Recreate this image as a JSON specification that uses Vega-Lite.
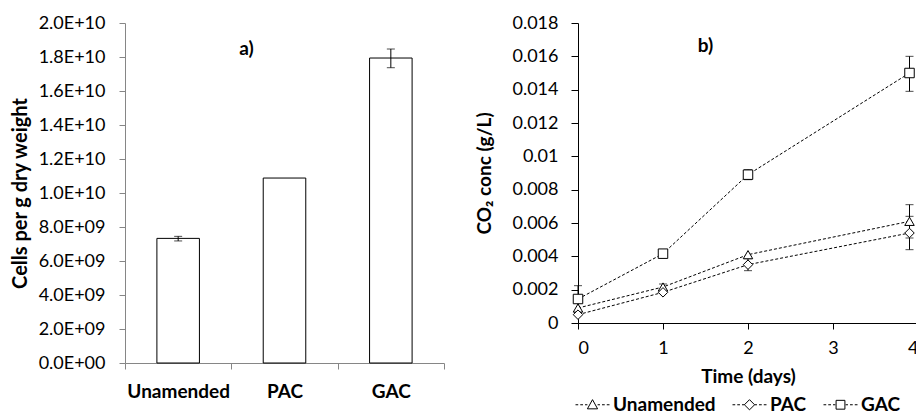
{
  "$schema": "https://vega.github.io/schema/vega-lite/v6.json",
  "padding": {"left": 10, "top": 14, "right": 0, "bottom": 0},
  "background": "white",
  "config": {
    "view": {"stroke": null},
    "font": "Lato",
    "axis": {"grid": false, "labelFont": "Lato", "titleFont": "Lato", "labelColor": "black", "titleColor": "black", "labelFontSize": 18, "titleFontSize": 19, "titleFontWeight": "bold", "tickSize": 6, "domainColor": "black", "tickColor": "black", "labelOverlap": false}
  },
  "spacing": 30,
  "hconcat": [
    {
      "width": 319,
      "height": 340,
      "data": {"values": [
        {"treatment": "Unamended", "cells": 7.33e9, "lo": 7.18e9, "hi": 7.45e9},
        {"treatment": "PAC", "cells": 1.088e10, "lo": null, "hi": null},
        {"treatment": "GAC", "cells": 1.794e10, "lo": 1.737e10, "hi": 1.847e10}
      ]},
      "encoding": {
        "x": {"field": "treatment", "type": "nominal", "sort": null,
          "scale": {"paddingInner": 0, "paddingOuter": 0},
          "axis": {"title": null, "labelAngle": 0, "tickBand": "extent", "labelFontWeight": "bold", "labelFontSize": 19, "labelPadding": 13, "domainColor": "#868686", "tickColor": "#868686"}}
      },
      "layer": [
        {
          "mark": {"type": "bar", "fill": "white", "stroke": "black", "strokeWidth": 1, "width": {"band": 0.4}},
          "encoding": {
            "y": {"field": "cells", "type": "quantitative", "title": "Cells per g dry weight",
              "scale": {"domain": [0, 2e10]},
              "axis": {"values": [0, 2e9, 4e9, 6e9, 8e9, 1e10, 1.2e10, 1.4e10, 1.6e10, 1.8e10, 2e10], "labelOverlap": false, "tickCount": 11,
                "labelExpr": "datum.value == 0 ? '0.0E+00' : (datum.value < 1e10 ? replace(format(datum.value, '.1e'), 'e+', 'E+0') : replace(format(datum.value, '.1e'), 'e', 'E'))",
                "labelPadding": 14, "titlePadding": 8, "titleFontSize": 20, "domainColor": "#868686", "tickColor": "#868686"}}
          }
        },
        {
          "transform": [{"filter": "datum.lo != null"}],
          "mark": {"type": "errorbar", "color": "black", "ticks": {"size": 8, "color": "black"}},
          "encoding": {
            "y": {"field": "lo", "type": "quantitative", "title": "Cells per g dry weight",
              "scale": {"domain": [0, 2e10]},
              "axis": {"values": [0, 2e9, 4e9, 6e9, 8e9, 1e10, 1.2e10, 1.4e10, 1.6e10, 1.8e10, 2e10], "labelOverlap": false, "tickCount": 11,
                "labelExpr": "datum.value == 0 ? '0.0E+00' : (datum.value < 1e10 ? replace(format(datum.value, '.1e'), 'e+', 'E+0') : replace(format(datum.value, '.1e'), 'e', 'E'))",
                "labelPadding": 14, "titlePadding": 8, "titleFontSize": 20, "domainColor": "#868686", "tickColor": "#868686"}},
            "y2": {"field": "hi"}
          }
        },
        {
          "data": {"values": [{"label": "a)", "treatment": "PAC", "yv": 1.85e10}]},
          "mark": {"type": "text", "fontWeight": "bold", "fontSize": 19, "dx": -38, "color": "black"},
          "encoding": {
            "text": {"field": "label"},
            "y": {"field": "yv", "type": "quantitative", "title": "Cells per g dry weight",
              "scale": {"domain": [0, 2e10]},
              "axis": {"values": [0, 2e9, 4e9, 6e9, 8e9, 1e10, 1.2e10, 1.4e10, 1.6e10, 1.8e10, 2e10], "labelOverlap": false, "tickCount": 11,
                "labelExpr": "datum.value == 0 ? '0.0E+00' : (datum.value < 1e10 ? replace(format(datum.value, '.1e'), 'e+', 'E+0') : replace(format(datum.value, '.1e'), 'e', 'E'))",
                "labelPadding": 14, "titlePadding": 8, "titleFontSize": 20, "domainColor": "#868686", "tickColor": "#868686"}}
          }
        }
      ]
    },
    {
      "width": 340,
      "height": 300,
      "data": {"values": [
        {"series": "Unamended", "t": 0, "v": 0.0009, "lo": null, "hi": null},
        {"series": "Unamended", "t": 1, "v": 0.00216, "lo": 0.00198, "hi": 0.00234},
        {"series": "Unamended", "t": 2, "v": 0.0041, "lo": null, "hi": null},
        {"series": "Unamended", "t": 3.9, "v": 0.0061, "lo": 0.0051, "hi": 0.0071},
        {"series": "PAC", "t": 0, "v": 0.0005, "lo": null, "hi": null},
        {"series": "PAC", "t": 1, "v": 0.00184, "lo": null, "hi": null},
        {"series": "PAC", "t": 2, "v": 0.0035, "lo": 0.00314, "hi": 0.00386},
        {"series": "PAC", "t": 3.9, "v": 0.0054, "lo": 0.0044, "hi": 0.0064},
        {"series": "GAC", "t": 0, "v": 0.00144, "lo": 0.00064, "hi": 0.00224},
        {"series": "GAC", "t": 1, "v": 0.00416, "lo": null, "hi": null},
        {"series": "GAC", "t": 2, "v": 0.0089, "lo": 0.0086, "hi": 0.0092},
        {"series": "GAC", "t": 3.9, "v": 0.015, "lo": 0.0139, "hi": 0.016}
      ]},
      "encoding": {
        "x": {"field": "t", "type": "quantitative", "scale": {"domain": [0, 4]},
          "axis": {"title": "Time (days)", "values": [0, 1, 2, 3, 4], "format": "d", "labelPadding": 10, "titlePadding": 10}},
        "y": {"field": "v", "type": "quantitative", "scale": {"domain": [0, 0.018]}, "title": "CO₂ conc (g/L)",
          "axis": {"values": [0, 0.002, 0.004, 0.006, 0.008, 0.01, 0.012, 0.014, 0.016, 0.018], "format": "~g", "labelPadding": 13, "titlePadding": 17, "tickSize": 7}}
      },
      "resolve": {"scale": {"shape": "independent"}, "legend": {"shape": "independent"}},
      "layer": [
        {
          "mark": {"type": "line", "strokeDash": [3, 2], "strokeWidth": 1, "color": "black"},
          "encoding": {"detail": {"field": "series"}}
        },
        {
          "transform": [{"filter": "datum.lo != null"}],
          "mark": {"type": "errorbar", "color": "black", "ticks": {"size": 8, "color": "black"}},
          "encoding": {
            "y": {"field": "lo", "type": "quantitative", "title": "CO₂ conc (g/L)", "scale": {"domain": [0, 0.018]},
              "axis": {"values": [0, 0.002, 0.004, 0.006, 0.008, 0.01, 0.012, 0.014, 0.016, 0.018], "format": "~g", "labelPadding": 13, "titlePadding": 17, "tickSize": 7}},
            "y2": {"field": "hi"}
          }
        },
        {
          "mark": {"type": "point", "filled": true, "fill": "white", "stroke": "black", "strokeWidth": 1, "size": 90, "opacity": 1},
          "encoding": {
            "shape": {"field": "series", "type": "nominal",
              "scale": {"domain": ["Unamended", "PAC", "GAC"], "range": ["triangle-up", "diamond", "square"]},
              "legend": null}
          }
        },
        {
          "transform": [{"filter": "datum.t < 0"}],
          "mark": {"type": "point", "filled": false, "color": "black", "strokeWidth": 1, "opacity": 1},
          "encoding": {
            "shape": {"field": "series", "type": "nominal",
              "scale": {"domain": ["Unamended", "PAC", "GAC"], "range": [
                "M-1,0H-0.84M-0.72,0H-0.56M-0.44,0H-0.3M0.3,0H0.44M0.56,0H0.72M0.84,0H1M0,-0.3L0.3,0.24L-0.3,0.24Z",
                "M-1,0H-0.84M-0.72,0H-0.56M-0.44,0H-0.3M0.3,0H0.44M0.56,0H0.72M0.84,0H1M0,-0.3L0.3,0L0,0.3L-0.3,0Z",
                "M-1,0H-0.84M-0.72,0H-0.56M-0.44,0H-0.3M0.3,0H0.44M0.56,0H0.72M0.84,0H1M-0.26,-0.26H0.26V0.26H-0.26Z"]},
              "legend": {"orient": "none", "legendX": -3, "legendY": 364, "direction": "horizontal", "title": null, "padding": 0,
                "symbolSize": 1156, "symbolFillColor": "white", "symbolStrokeColor": "black", "symbolStrokeWidth": 1, "symbolOpacity": 1,
                "labelFontSize": 19, "labelFontWeight": "bold", "labelFont": "Lato", "labelColor": "black",
                "labelOffset": 3, "columnPadding": 14,
                "encode": {"symbols": {"update": {"stroke": {"value": "black"}, "fill": {"value": "white"}, "strokeWidth": {"value": 1}, "opacity": {"value": 1}}}}}}
          }
        },
        {
          "data": {"values": [{"label": "b)", "t": 1.5, "v": 0.0166}]},
          "mark": {"type": "text", "fontWeight": "bold", "fontSize": 19, "color": "black"},
          "encoding": {"text": {"field": "label"}, "y": {"field": "v", "type": "quantitative", "title": "CO₂ conc (g/L)", "scale": {"domain": [0, 0.018]},
              "axis": {"values": [0, 0.002, 0.004, 0.006, 0.008, 0.01, 0.012, 0.014, 0.016, 0.018], "format": "~g", "labelPadding": 13, "titlePadding": 17, "tickSize": 7}}}
        }
      ]
    }
  ]
}
